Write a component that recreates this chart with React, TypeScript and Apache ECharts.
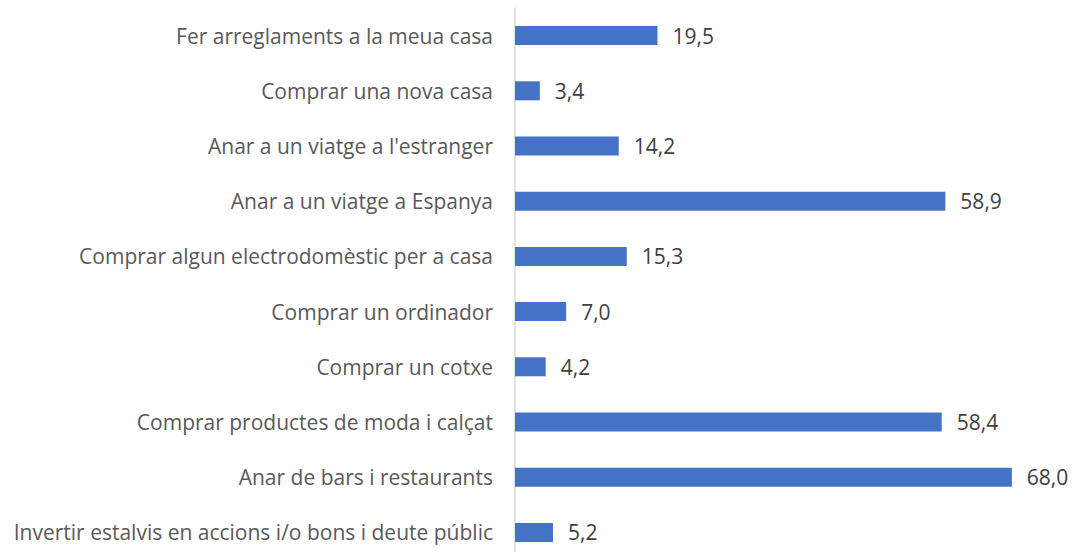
import React, { useEffect, useRef } from "react";
import * as echarts from "echarts";

const categories = [
  "Fer arreglaments a la meua casa",
  "Comprar una nova casa",
  "Anar a un viatge a l'estranger",
  "Anar a un viatge a Espanya",
  "Comprar algun electrodomèstic per a casa",
  "Comprar un ordinador",
  "Comprar un cotxe",
  "Comprar productes de moda i calçat",
  "Anar de bars i restaurants",
  "Invertir estalvis en accions i/o bons i deute públic",
];
const values = [19.5, 3.4, 14.2, 58.9, 15.3, 7.0, 4.2, 58.4, 68.0, 5.2];

export default function App() {
  const ref = useRef<HTMLDivElement>(null);
  useEffect(() => {
    if (!ref.current) return;
    const chart = echarts.init(ref.current, null, { renderer: "svg" });
    chart.setOption({
      animation: false,
      grid: { left: 515, right: 12, top: 8, bottom: 8, containLabel: false },
      xAxis: {
        type: "value",
        min: 0,
        max: 75,
        show: false,
        splitLine: { show: false },
      },
      yAxis: {
        type: "category",
        data: categories,
        inverse: true,
        axisLine: { show: true, lineStyle: { color: "#d9d9d9", width: 1.5 } },
        axisTick: { show: false },
        axisLabel: {
          margin: 22,
          color: "#595959",
          fontSize: 21,
          fontFamily: "Open Sans",
        },
      },
      series: [
        {
          type: "bar",
          data: values,
          barWidth: 19,
          itemStyle: { color: "#4472c4" },
          label: {
            show: true,
            position: "right",
            distance: 15,
            color: "#404040",
            fontSize: 21,
            fontFamily: "Open Sans",
            formatter: (p: any) => p.value.toFixed(1).replace(".", ","),
          },
        },
      ],
    });
    return () => chart.dispose();
  }, []);
  return (
    <div
      ref={ref}
      style={{ position: "absolute", left: 0, top: 0, width: 1075, height: 568, background: "#fff" }}
    />
  );
}
